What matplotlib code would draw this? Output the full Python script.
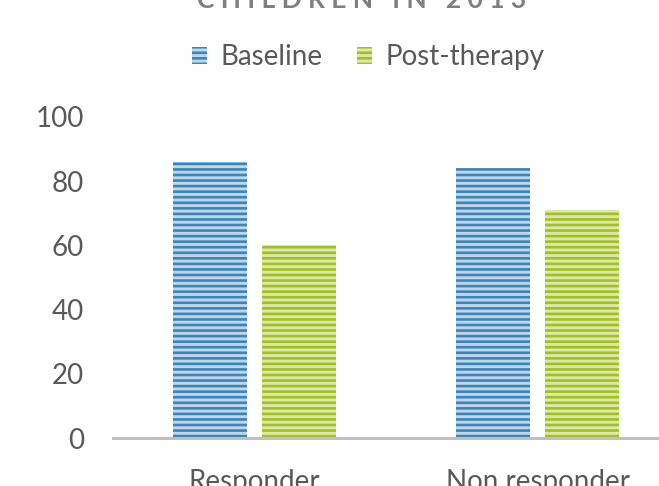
import matplotlib
matplotlib.use("Agg")
import matplotlib.pyplot as plt
import numpy as np

categories = ["Responder", "Non responder"]
series_names = ["Baseline", "Post-therapy"]
baseline = [86, 84]
post_therapy = [60, 71]
y_ticks = [0, 20, 40, 60, 80, 100]
title_text = "CHILDREN IN 2013"

plt.rcParams["font.family"] = ["Lato", "DejaVu Sans"]
plt.rcParams["hatch.linewidth"] = 1.9

text_gray = "#595959"
face_colors = ["#bcd7ec", "#dce8a6"]
stripe_colors = ["#3f84b5", "#a4be28"]

fig = plt.figure(figsize=(6.59, 4.86), dpi=100)
ax = fig.add_axes([113 / 659, 48 / 486, 566 / 659, 321 / 486])

x = np.arange(len(categories))
width = 0.26
offset = 0.158
for i, (vals, name) in enumerate(zip([baseline, post_therapy], series_names)):
    pos = x - offset if i == 0 else x + offset
    ax.bar(pos, vals, width, facecolor=face_colors[i], edgecolor=stripe_colors[i],
           hatch="---", linewidth=0, label=name, zorder=2)

ax.set_xlim(-0.5, 1.5)
ax.set_ylim(0, 100)
ax.set_yticks(y_ticks)
ax.set_xticks(x)
ax.set_xticklabels(categories)
for s in ["top", "right", "left"]:
    ax.spines[s].set_visible(False)
ax.spines["bottom"].set_color("#bfbfbf")
ax.spines["bottom"].set_linewidth(2.2)
ax.spines["bottom"].set_zorder(3)
ax.tick_params(axis="y", length=0, pad=21, labelsize=20, labelcolor=text_gray)
ax.tick_params(axis="x", length=0, pad=22, labelsize=20, labelcolor=text_gray)

leg = fig.legend(loc="center", bbox_to_anchor=(368.5 / 659, 1 - 57 / 486), ncol=2,
                 frameon=False, fontsize=20, handlelength=0.52, handleheight=0.55,
                 handletextpad=0.5, columnspacing=1.25, labelcolor=text_gray)

fig.text(362 / 659, 1.0, " ".join(title_text), ha="center", va="center",
         fontsize=19, fontweight="bold", color="#7f7f7f")

fig.savefig("out.png", dpi=100)
